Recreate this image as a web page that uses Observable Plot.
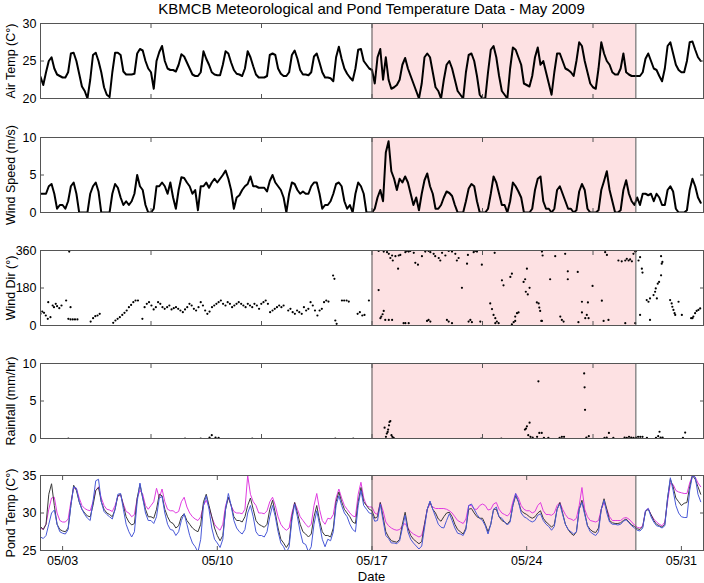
<!DOCTYPE html>
<html><head><meta charset="utf-8">
<script src="https://cdn.jsdelivr.net/npm/d3@7"></script>
<script src="https://cdn.jsdelivr.net/npm/@observablehq/plot@0.6"></script>
<style>
body{margin:0;background:#fff;}
#chart{position:relative;width:704px;height:583px;font-family:"Liberation Sans",Arial,sans-serif;overflow:hidden;}
#chart svg{position:absolute;left:0;}
.title{position:absolute;top:0;left:40px;width:663px;text-align:center;font-size:15px;line-height:18px;}
.xlabel{position:absolute;top:569px;left:40px;width:663px;text-align:center;font-size:13px;line-height:15px;}
</style></head><body>
<div id="chart"><div class="title">KBMCB Meteorological and Pond Temperature Data - May 2009</div><div class="xlabel">Date</div></div>
<script>
// ---- data (3-hourly samples starting 2009-05-02 00:00) ----
const airTemp = [
22.9,21.8,23.5,25.0,25.5,24.0,23.2,23.0, 22.8,22.8,23.5,26.0,26.1,25.0,23.3,21.6,
21.0,20.0,22.5,25.8,26.1,25.0,23.5,21.5, 20.5,20.2,23.5,26.1,26.1,25.8,23.6,23.2,
23.2,23.2,23.3,26.0,26.6,26.4,25.0,24.0, 23.5,21.3,25.0,26.2,27.0,25.0,24.0,23.8,
23.8,23.6,24.5,25.9,25.6,24.8,24.0,23.2, 23.0,23.0,23.5,26.3,25.3,24.5,23.5,23.2,
23.1,23.1,24.5,26.3,26.0,24.8,23.8,23.3, 23.2,23.0,24.0,26.3,25.5,24.3,23.2,22.8,
22.8,22.8,23.0,25.8,26.0,25.8,24.0,23.3, 23.0,23.0,23.5,25.8,26.4,25.3,23.8,23.2,
23.2,23.1,23.5,25.6,26.0,24.8,23.5,22.8, 22.8,22.7,22.3,25.5,26.9,25.3,24.0,23.3,
22.8,22.4,24.0,26.5,26.6,25.0,24.5,24.0, 23.8,22.0,25.5,26.6,22.5,25.5,22.5,21.3,
21.5,21.8,22.5,24.5,25.4,24.0,23.0,22.0, 21.0,20.0,22.0,25.5,26.0,25.5,23.5,21.5,
21.0,20.0,22.5,24.5,25.0,24.0,22.5,21.0, 20.5,20.0,23.5,25.8,26.0,25.0,23.0,20.5,
20.0,20.0,23.5,26.5,27.0,25.5,23.0,21.0, 20.5,20.0,24.0,26.8,26.5,25.5,24.5,22.0,
21.8,21.6,23.0,25.5,26.8,24.5,25.0,23.5, 22.0,20.5,23.5,26.0,26.0,25.0,24.0,23.8,
23.5,23.0,25.0,27.5,27.0,25.0,23.5,22.0, 21.5,21.3,24.0,27.5,26.0,25.0,24.5,23.5,
23.2,23.2,24.0,26.0,23.5,23.2,23.0,23.0, 23.0,23.0,23.5,25.3,26.0,25.0,24.0,23.8,
23.0,22.3,24.0,27.0,27.5,26.0,24.5,23.8, 23.5,23.5,25.0,27.5,27.6,26.5,25.5,25.0
];
const windSpeed = [
2.5,2.5,2.5,3.5,3.8,2.5,0.5,1.0, 1.0,0.5,1.5,3.5,4.0,2.5,0.0,0.0,
0.0,0.0,2.5,3.5,4.0,2.8,0.0,0.0, 0.0,0.0,2.5,3.8,3.3,2.0,1.0,1.5,
1.0,1.5,2.5,5.0,3.5,3.0,1.0,0.0, 0.0,0.5,3.5,3.5,4.0,3.5,2.5,4.0,
2.0,0.5,3.0,4.7,4.6,4.0,3.5,2.5, 3.0,0.3,3.5,3.5,4.0,3.3,4.0,4.5,
4.0,4.5,5.0,5.6,4.5,3.0,0.5,2.0, 2.3,3.0,3.5,3.8,4.8,3.5,3.5,3.3,
3.3,3.3,2.8,4.2,5.0,4.0,3.5,3.0, 2.0,0.0,2.5,4.0,3.8,3.0,2.5,2.8,
2.5,2.5,3.5,4.0,4.0,2.5,0.5,1.0, 1.0,1.5,2.5,3.8,4.0,3.5,1.5,0.5,
1.0,0.0,2.5,4.0,3.5,2.5,0.0,0.0, 0.0,0.5,2.0,3.0,1.5,8.0,9.5,5.5,
4.5,3.0,4.5,4.0,4.8,4.0,2.5,1.0, 2.0,0.3,2.5,4.3,5.2,3.5,2.5,0.5,
0.5,1.0,2.0,2.8,2.6,2.2,1.0,0.0, 0.0,0.0,1.5,3.2,3.8,3.5,1.5,0.0,
0.0,0.0,0.5,2.5,4.8,4.0,2.5,1.0, 1.0,0.0,1.5,4.0,3.5,2.8,2.0,0.0,
0.0,0.0,0.5,3.0,4.5,4.8,1.5,0.5, 0.5,0.0,0.5,3.0,3.5,2.5,1.5,0.5,
0.5,0.0,0.3,2.8,3.8,3.0,0.5,0.0, 0.0,0.0,0.3,3.0,4.2,5.5,3.0,1.5,
0.0,0.0,0.3,3.0,4.3,2.5,1.5,1.0, 2.0,1.0,2.5,2.5,2.3,2.5,1.5,2.5,
2.0,1.0,1.0,3.0,3.5,2.8,0.5,0.0, 0.0,0.0,0.3,3.0,4.5,3.5,2.0,1.3
];
const pondBlack = [
28.2,27.8,28.5,32.5,33.9,31.0,28.5,27.8, 27.6,27.5,28.0,31.0,33.7,33.0,31.5,30.5,
30.0,29.6,29.5,31.0,33.0,33.4,31.5,30.5, 30.0,29.8,29.5,30.5,32.3,32.5,31.0,29.5,
28.8,28.4,28.6,32.0,33.8,32.0,30.5,29.5, 29.5,29.3,30.5,32.5,32.3,30.5,29.5,28.8,
28.6,28.0,28.3,29.5,29.9,29.0,28.5,28.0, 27.7,27.5,28.5,31.5,32.5,31.0,29.5,28.0,
27.0,26.3,27.0,30.5,32.1,31.0,29.5,29.0, 29.0,28.8,29.5,31.0,32.0,30.5,29.0,28.5,
28.3,28.1,28.5,30.5,31.7,30.0,28.0,26.5, 26.0,25.4,26.0,29.5,31.4,30.0,28.5,27.5,
27.2,26.8,27.2,29.5,31.0,29.0,27.5,27.0, 27.0,26.8,28.0,31.5,32.8,31.5,30.5,30.0,
29.5,28.8,28.6,31.5,33.4,31.5,31.0,30.5, 30.3,29.3,29.5,31.4,29.5,27.5,26.8,26.3,
26.2,26.1,26.5,28.5,30.1,28.0,27.0,26.5, 26.2,25.9,26.2,28.5,30.5,31.5,30.5,30.0,
29.2,28.9,29.5,30.0,30.1,29.5,28.5,27.8, 27.5,27.2,28.0,30.5,30.6,30.0,29.5,29.3,
29.3,28.5,27.5,28.5,30.5,30.5,29.5,29.0, 28.8,28.5,29.0,31.0,32.3,31.5,30.3,30.0,
29.8,29.5,29.3,29.5,30.0,30.3,29.3,28.8, 28.5,28.1,28.5,30.5,31.4,30.0,28.5,27.8,
27.3,27.0,27.5,30.5,31.7,30.0,28.3,27.8, 27.5,27.4,28.0,30.5,31.9,30.5,29.0,28.7,
28.6,28.6,28.7,29.0,29.2,28.8,28.4,28.2, 27.9,27.8,28.2,30.2,30.5,29.8,29.0,28.5,
28.3,28.1,28.5,32.0,34.5,33.5,32.0,31.5, 31.0,31.3,31.4,33.5,35.0,34.5,33.5,32.5
];
const pondBlue = [
26.8,26.6,27.0,28.5,30.0,30.4,28.5,27.5, 27.3,27.2,27.8,31.0,33.5,33.3,31.5,30.5,
29.8,29.3,29.0,31.5,34.3,34.5,31.5,30.2, 29.8,29.5,29.2,30.5,32.5,32.6,30.5,28.5,
27.5,26.8,27.5,31.5,34.0,32.0,30.0,29.0, 29.0,28.6,29.5,32.0,32.2,30.0,28.5,27.8,
27.7,27.0,27.5,29.0,29.9,28.5,27.0,26.0, 25.5,24.8,26.5,31.0,32.3,30.5,28.0,26.5,
26.0,25.4,26.5,30.5,32.6,31.0,29.0,28.0, 27.5,27.2,27.8,30.0,31.0,29.5,27.5,27.0,
27.0,26.8,27.5,29.5,31.0,29.5,27.5,26.0, 25.5,24.7,25.5,29.0,31.2,29.5,27.5,26.0,
25.8,24.8,25.5,28.5,30.3,28.5,26.5,25.5, 26.5,26.3,27.5,31.0,32.3,31.0,30.0,29.5,
28.5,27.8,27.5,31.0,33.0,31.0,30.5,30.0, 29.9,28.9,29.0,31.2,29.0,27.0,26.6,26.0,
26.0,25.9,26.3,28.0,29.7,27.5,26.5,26.0, 25.6,25.2,25.6,28.0,30.5,31.6,30.5,29.5,
28.5,28.1,28.0,29.0,29.9,29.0,28.0,27.3, 27.2,27.0,27.8,31.0,31.2,30.5,29.8,29.3,
29.0,28.3,27.2,28.5,30.5,30.8,29.5,29.3, 28.8,28.4,28.8,31.0,32.6,31.5,30.0,29.5,
29.3,29.0,28.8,29.0,29.7,29.9,29.0,28.5, 28.2,27.7,28.2,30.5,31.2,29.8,28.5,27.8,
27.5,27.2,27.5,30.5,31.4,29.8,28.3,27.5, 27.2,27.0,27.5,30.5,31.7,30.0,28.8,28.5,
28.5,28.4,28.5,28.9,29.1,28.7,28.3,28.0, 27.7,27.6,28.0,30.3,30.6,29.5,28.8,28.3,
28.2,28.0,28.3,32.0,34.7,33.0,31.0,30.0, 29.5,29.4,29.4,33.0,35.0,34.8,32.5,31.5
];
const pondMagenta = [
28.0,27.8,28.5,30.5,32.0,32.1,30.0,29.0, 28.8,28.8,29.2,31.5,33.3,33.3,32.0,31.0,
30.6,30.4,30.3,31.5,33.0,33.5,32.0,31.0, 30.5,30.4,30.2,31.0,32.2,32.4,31.2,30.2,
30.0,29.5,29.8,32.0,33.0,32.5,31.0,30.5, 31.0,31.5,33.3,32.0,33.2,31.5,30.5,30.3,
30.3,30.0,30.2,31.5,32.1,30.8,30.0,29.5, 29.2,29.0,29.5,31.0,31.7,30.8,29.5,28.5,
28.0,27.7,28.5,31.0,32.1,31.0,30.2,30.0, 30.0,29.9,30.5,35.0,32.5,31.5,31.0,30.0,
30.0,29.9,30.3,31.5,32.1,31.0,29.5,28.5, 28.0,27.7,28.0,30.0,31.4,30.5,29.5,29.0,
28.5,28.1,28.5,31.0,32.6,30.5,29.0,28.5, 29.3,29.2,29.8,32.0,33.2,32.0,31.0,30.5,
30.0,29.6,29.5,32.5,34.1,32.0,31.0,30.8, 30.8,30.0,29.8,31.4,30.3,28.8,28.3,28.0,
27.8,27.7,27.8,28.3,28.6,28.0,27.5,27.2, 27.0,26.8,27.0,28.5,30.5,31.2,30.8,30.6,
30.6,30.6,30.6,30.5,30.3,30.0,29.5,29.0, 28.8,28.6,29.2,31.0,31.0,30.5,30.5,31.0,
31.2,31.0,30.4,30.5,31.2,31.4,30.5,30.0, 29.8,29.6,30.0,31.5,32.6,32.0,31.0,30.5,
30.3,30.3,30.0,30.2,31.0,31.4,30.3,29.8, 29.8,29.7,30.0,31.0,31.4,30.5,29.8,29.3,
29.2,29.0,29.3,31.0,33.4,30.5,29.5,29.0, 28.9,28.8,29.0,30.5,31.4,30.5,29.5,29.0,
29.0,29.0,29.0,29.3,29.4,29.2,28.8,28.4, 28.1,28.0,28.3,30.3,30.6,29.8,29.2,28.8,
28.5,28.3,28.8,31.5,34.0,33.8,33.0,32.8, 32.7,32.6,32.6,34.0,35.0,34.8,34.0,33.5
];
// wind direction observations: [days since May 2 00:00, degrees]
const windDir = [
[0.00,56],[0.08,67],[0.16,61],[0.24,48],[0.33,32],[0.45,40],[0.35,112],[0.55,96],[0.61,88],[0.69,104],[0.75,93],[0.85,83],[0.95,96],[1.16,120],[1.30,355],[1.36,88],[1.26,32],[1.36,29],[1.46,29],[1.56,29],[1.67,29],
[2.27,19],[2.38,35],[2.48,45],[2.58,48],[2.68,56],
[3.29,13],[3.39,24],[3.49,32],[3.59,40],[3.70,51],[3.80,61],[3.90,72],[4.00,88],[4.10,99],[4.20,112],[4.30,120],[4.41,120],[4.61,32],
[4.71,88],[4.81,104],[4.91,112],[5.02,96],[5.12,77],[5.22,88],[5.32,112],[5.42,104],[5.52,88],[5.62,80],[5.73,88],[5.83,96],[5.93,77],[6.03,83],[6.13,88],[6.23,80],[6.33,72],[6.44,64],[6.54,77],[6.64,88],[6.74,104],[6.84,96],[6.94,80],[7.04,72],[7.15,88],[7.25,112],[7.35,96],[7.45,72],[7.55,56],[7.65,67],[7.76,88],[7.86,96],[7.96,104],[8.06,112],[8.16,120],[8.26,104],[8.37,96],[8.47,112],[8.57,104],[8.67,88],[8.77,96],[8.87,104],[8.97,112],[9.08,104],[9.18,96],[9.28,88],[9.38,104],[9.48,96],[9.58,88],[9.68,104],[9.79,96],[9.89,80],[9.99,104],[10.09,112],[10.19,120],[10.29,104],[10.39,64],[10.50,72],[10.60,80],[10.70,88],[10.80,96],[10.90,88],[11.00,96],[11.21,72],[11.31,80],[11.41,64],[11.51,56],[11.61,72],[11.71,64],[11.82,56],[11.92,88],[12.02,72],[12.12,80],[12.22,112],[12.32,96],[12.42,72],[12.53,48],[12.63,72],[12.73,80],[12.83,112],[12.93,120],[13.03,115],
[13.24,240],[13.30,224],[13.34,24],[13.40,8],[13.64,120],[13.74,120],[13.85,120],[13.95,115],[14.35,56],[14.45,64],[14.56,48],[14.66,51],[14.86,120],
[15.30,358],[15.53,355],[15.68,352],[15.76,344],[15.91,336],[15.83,324],[15.94,312],[16.06,333],[16.21,336],[16.28,339],[16.51,352],[16.58,358],[16.66,355],[16.73,358],[16.89,349],[16.96,301],[17.08,292],[17.26,333],[17.41,355],[17.56,358],[17.64,352],[17.79,344],[17.86,333],[18.02,324],[18.09,312],[18.17,349],[18.32,336],[18.47,358],[18.62,355],[18.77,344],[18.84,312],[18.92,324],[19.30,297],[19.34,339],[19.60,352],[19.67,358],[19.75,355],[19.97,292],[20.55,349],[22.69,355],[22.72,336],[23.29,333],[23.74,344],[25.55,352],[25.63,339],[26.15,312],[26.30,308],[26.46,312],[26.53,320],[26.61,312],[26.68,317],[26.76,308],[26.83,344],[26.91,355],[26.95,358],
[16.18,273],[15.30,170],[19.07,181],[20.88,217],[20.95,193],[21.26,233],[21.33,249],[21.86,209],[21.93,222],[22.01,273],[22.05,149],[21.96,162],[22.13,181],[23.06,222],[23.86,222],[23.86,260],[24.31,257],[24.98,190],[25.40,119],
[20.35,106],[20.43,79],[20.50,51],[20.58,35],[20.65,19],[21.48,43],[21.56,59],[21.63,63],[22.46,111],[22.54,106],[22.57,86],[22.61,70],[22.66,22],[24.50,114],[24.77,111],[24.50,63],[24.72,51],[24.80,35],[24.65,35],
[15.53,70],[15.48,54],[15.42,43],[15.38,35],[15.60,27],[15.76,27],[15.91,27],[16.43,11],[16.51,11],[16.66,11],[17.49,22],[17.56,27],[17.64,19],[18.39,27],[18.47,19],[18.62,11],[19.37,19],[19.45,27],[19.52,16],[19.90,19],[20.58,11],[20.73,11],[21.33,6],[21.41,16],[21.48,22],[22.69,22],[23.52,43],[23.59,27],[23.67,19],[24.34,16],[25.48,22],[25.70,27],[26.46,11],[26.91,11],
[27.06,312],[27.13,328],[27.21,273],[27.24,254],[28.08,333],[28.11,297],[28.14,305],[27.13,51],[27.58,27],[27.43,122],[27.51,114],[27.58,130],[27.74,146],[27.81,162],[27.84,178],[27.93,201],[27.99,209],[28.08,241],[27.89,130],
[28.49,122],[28.56,106],[28.59,90],[28.64,75],[28.69,59],[28.72,51],[28.87,114],[29.02,51],[29.44,35],[29.50,35],[29.54,43],[29.62,59],[29.69,70],[29.77,75],[29.85,82]
];
// rainfall observations: [days since May 2 00:00, mm/hr]
const rainfall = [
[1.26,0],[6.54,0],[7.25,0],[7.65,0.13],[7.75,0.45],[7.92,0.13],[8.06,0.09],[9.58,0],[13.34,0],[14.15,0],
[15.57,1.45],[15.63,0.22],[15.67,0.66],[15.71,0.88],[15.73,1.19],[15.77,1.76],[15.79,2.2],[15.83,2.33],[15.88,0.44],[15.92,0.22],[15.98,0.09],
[19.94,0],[20.85,0],[21.92,1.19],[21.97,1.32],[22.01,1.63],[22.13,2.11],[22.07,0.44],[22.17,0.22],[22.27,0.13],[22.47,0.22],[22.53,7.62],[22.57,0.75],[22.68,0.75],[22.78,0.09],[22.98,0.09],[23.49,0.09],[23.59,0.22],[23.69,0.22],
[24.60,8.68],[24.62,6.83],[24.64,3.83],[24.70,0.13],[24.81,0.31],[25.52,0.09],[25.62,0.13],[25.72,0.75],[25.92,0.09],[26.43,0.13],[26.53,0.09],[26.63,0.22],[26.73,0.13],[26.83,0.09],[26.94,0.13],[27.04,0.22],[27.14,0.22],[27.24,0.22],[27.44,0.09],[27.85,0.09],[27.95,0.31],[28.01,0.9],[28.06,0.13],[28.15,0.13],[29.07,0.09],[29.17,0.79]
];
const topTickDates = ["2009-05-07","2009-05-12","2009-05-17","2009-05-22","2009-05-27"];
const bottomTickDates = ["2009-05-03","2009-05-10","2009-05-17","2009-05-24","2009-05-31"];
const startDate = "2009-05-02", endDate = "2009-06-01";
const shadeStartDate = "2009-05-17", shadeEndDay = 26.94;
const stepHours = 3;

// ---- build ----
const START = new Date(startDate).getTime();
const DAY = 864e5;
const xDomain = [new Date(startDate), new Date(endDate)];
const shade = [{x1: new Date(shadeStartDate), x2: new Date(START + shadeEndDay*DAY)}];
const series = arr => arr.map((v,i) => ({t: new Date(START + i*stepHours*3600e3), v}));
const pts = arr => arr.map(([d,v]) => ({t: new Date(START + d*DAY), v}));
const topTicks = topTickDates.map(d => new Date(d));
const botTicks = bottomTickDates.map(d => new Date(d));
const fmt = d3.utcFormat("%m/%d");
const chart = document.getElementById("chart");
const FONT = '"Liberation Sans", Arial, sans-serif';
const AX = "#555";

function panel({top, domain, ticks, label, marks, bottom = false}) {
  const mt = 4, mb = bottom ? 30 : 4, h = 75;
  const xt = bottom ? botTicks : topTicks;
  const svg = Plot.plot({
    width: 704, height: h + mt + mb,
    marginLeft: 40, marginRight: 1, marginTop: mt, marginBottom: mb,
    style: {fontFamily: FONT, fontSize: "12px", background: "transparent", overflow: "visible", color: "#000"},
    x: {type: "utc", domain: xDomain},
    y: {domain},
    marks: [
      Plot.rect(shade, {x1: "x1", x2: "x2", fill: "#fde1e3"}),
      ...marks,
      Plot.ruleX(shade.flatMap(s => [s.x1, s.x2]), {stroke: AX, strokeWidth: 1}),
      Plot.frame({stroke: AX}),
      Plot.axisY(ticks, {anchor: "left", tickSize: 0, tickPadding: 4, label, labelAnchor: "center", labelOffset: 34, labelArrow: "none", fontSize: 12.5}),
      Plot.axisY(ticks, {anchor: "left", tickSize: -4, tickFormat: () => "", label: null, stroke: AX}),
      Plot.axisY(ticks, {anchor: "right", tickSize: -4, tickFormat: () => "", label: null, stroke: AX}),
      Plot.axisX(xt, {anchor: "bottom", tickSize: -4, tickFormat: () => "", label: null, stroke: AX}),
      Plot.axisX(xt, {anchor: "top", tickSize: -4, tickFormat: () => "", label: null, stroke: AX}),
      ...(bottom ? [Plot.axisX(xt, {anchor: "bottom", tickSize: 0, tickPadding: 6, tickFormat: fmt, label: null, fontSize: 12.5})] : [])
    ]
  });
  svg.style.top = (top - mt) + "px";
  chart.append(svg);
}

panel({top: 23, domain: [20, 30], ticks: [20, 25, 30], label: "Air Temp (C°)",
  marks: [Plot.line(series(airTemp), {x: "t", y: "v", stroke: "#000", strokeWidth: 2, clip: true})]});
panel({top: 137, domain: [0, 10], ticks: [0, 5, 10], label: "Wind Speed (m/s)",
  marks: [Plot.line(series(windSpeed), {x: "t", y: "v", stroke: "#000", strokeWidth: 2, clip: true})]});
panel({top: 250, domain: [0, 360], ticks: [0, 180, 360], label: "Wind Dir (°)",
  marks: [Plot.dot(pts(windDir), {x: "t", y: "v", r: 1.1, fill: "#000", clip: true})]});
panel({top: 363, domain: [0, 10], ticks: [0, 5, 10], label: "Rainfall (mm/hr)",
  marks: [Plot.dot(pts(rainfall), {x: "t", y: "v", r: 1.1, fill: "#000", clip: true})]});
panel({top: 475, domain: [25, 35], ticks: [25, 30, 35], label: "Pond Temp (C°)", bottom: true,
  marks: [
    Plot.line(series(pondMagenta), {x: "t", y: "v", stroke: "#e03ce0", strokeWidth: 1, clip: true}),
    Plot.line(series(pondBlack), {x: "t", y: "v", stroke: "#3a3a3a", strokeWidth: 1, clip: true}),
    Plot.line(series(pondBlue), {x: "t", y: "v", stroke: "#4a5ad8", strokeWidth: 1, clip: true})
  ]});
</script>
</body></html>
